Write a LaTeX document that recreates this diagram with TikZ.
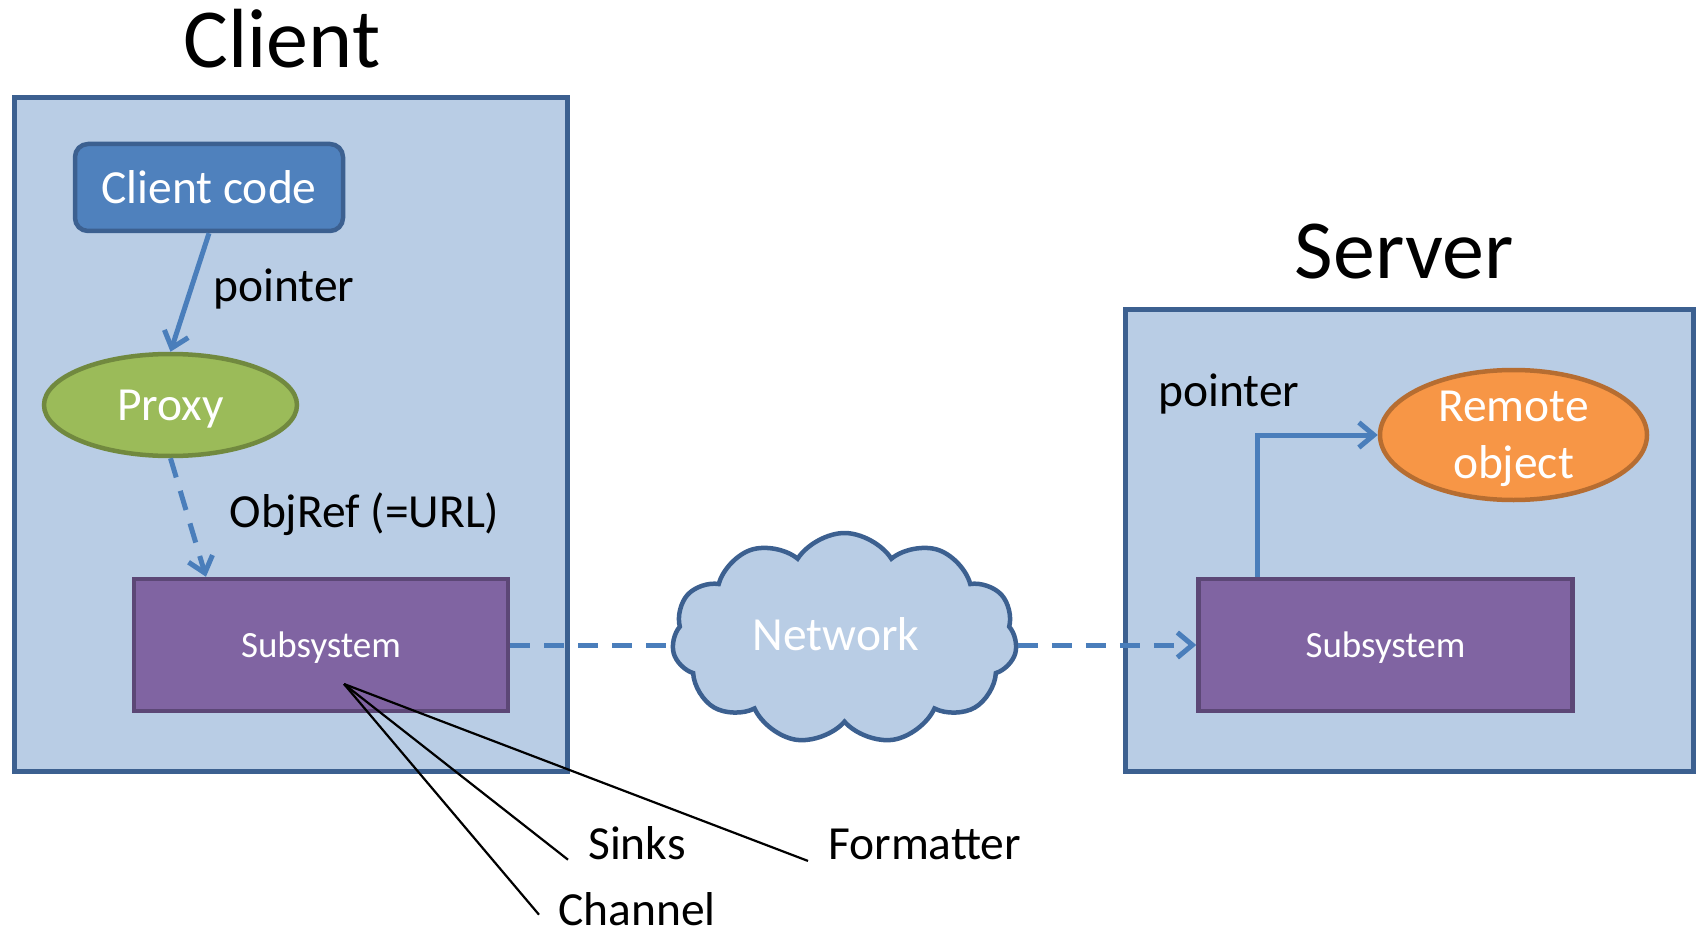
\documentclass[tikz,border=0pt]{standalone}
\usepackage{fontspec}
\setmainfont{Carlito}
\usetikzlibrary{arrows.meta,shapes.geometric,shapes.symbols,calc}
\definecolor{boxfill}{HTML}{B9CDE5}
\definecolor{boxline}{HTML}{3C6090}
\definecolor{ccfill}{HTML}{4F81BD}
\definecolor{arrowblue}{HTML}{4A7EBB}
\definecolor{proxyfill}{HTML}{9BBB59}
\definecolor{proxyline}{HTML}{71893F}
\definecolor{subfill}{HTML}{8064A2}
\definecolor{subline}{HTML}{5C4776}
\definecolor{remfill}{HTML}{F79646}
\definecolor{remline}{HTML}{B66D31}
\tikzset{
  bigbox/.style={draw=boxline, fill=boxfill, line width=5pt, inner sep=0pt},
  subbox/.style={draw=subline, fill=subfill, line width=4.5pt, inner sep=0pt,
    minimum width=374pt, minimum height=132pt, text=white, text depth=0pt,
    font=\fontsize{37}{44}\selectfont},
  lbl/.style={font=\fontsize{47.5}{57}\selectfont, inner sep=0pt, anchor=base},
  title/.style={font=\fontsize{84}{100}\selectfont, inner sep=0pt, anchor=base},
  tip/.style={-{Straight Barb[length=15pt,width=25pt]}},
  conn/.style={draw=arrowblue, line width=5pt},
  dashconn/.style={conn, dash pattern=on 20pt off 14pt},
  pin/.style={draw=black, line width=2.2pt},
}
\begin{document}
\begin{tikzpicture}[x=1pt,y=-1pt]
\useasboundingbox[fill=white] (0,0) rectangle (1700,936);
% containers
\node[bigbox, minimum width=553pt, minimum height=673pt] (clientbox) at (290.5,434.5) {};
\node[bigbox, minimum width=568pt, minimum height=462pt] (serverbox) at (1409,540) {};
\node[title] (clienttitle) at (282,68) {Client};
\node[title] (servertitle) at (1404,278) {Server};
% client side
\node[draw=boxline, fill=ccfill, line width=4.5pt, rounded corners=13pt, inner sep=0pt,
  minimum width=268pt, minimum height=87pt, text=white, font=\fontsize{47.5}{57}\selectfont]
  (cc) at (209,187.5) {Client code};
\node[ellipse, draw=proxyline, fill=proxyfill, line width=4.5pt, inner sep=0pt,
  minimum width=253pt, minimum height=102pt, text=white, text depth=0pt,
  font=\fontsize{47.5}{57}\selectfont]
  (proxy) at (170.5,405) {Proxy};
\node[subbox] (subL) at (321,645) {Subsystem};
% server side
\node[subbox] (subR) at (1385.5,645) {Subsystem};
\node[ellipse, draw=remline, fill=remfill, line width=4.5pt, inner sep=0pt,
  minimum width=267pt, minimum height=130pt, text=white, align=center, text depth=-6pt,
  font=\fontsize{47.5}{57}\selectfont]
  (remote) at (1513.5,435) {Remote\\object};
% network cloud
\node[cloud, cloud puffs=11, cloud puff arc=115, cloud ignores aspect, draw=boxline, fill=boxfill,
  line width=4.5pt, inner sep=0pt, minimum width=345pt, minimum height=211pt] (cloud) at (844.5,638.5) {};
\node[text=white, font=\fontsize{47.5}{57}\selectfont, inner sep=0pt] (net) at (836,634) {Network};
% labels
\node[lbl] (ptrL) at (284,301) {pointer};
\node[lbl] (objref) at (364.5,527) {ObjRef (=URL)};
\node[lbl] (ptrR) at (1229,406) {pointer};
\node[lbl, anchor=base west] (sinks) at (588,859) {Sinks};
\node[lbl, anchor=base west] (fmt) at (828,859) {Formatter};
\node[lbl, anchor=base west] (chan) at (558,925) {Channel};
% connectors
\draw[conn, tip] (cc.south) -- (proxy.north);
\draw[dashconn, tip] (proxy.south) -- ($(subL.north west)!0.196!(subL.north east)$);
\draw[dashconn] (subL.east) -- (subL.east -| cloud.west);
\draw[dashconn, tip] (subR.west -| cloud.east) -- (subR.west);
\draw[conn, tip] ([xshift=61pt]subR.north west) |- (remote.west);
% pins
\coordinate (hub) at (344,684);
\draw[pin] (hub) -- ([xshift=-20pt,yshift=-17pt]sinks.west);
\draw[pin] (hub) -- ([xshift=-20pt,yshift=-17pt]fmt.west);
\draw[pin] (hub) -- ([xshift=-19pt,yshift=-6pt]chan.west);
\end{tikzpicture}
\end{document}
